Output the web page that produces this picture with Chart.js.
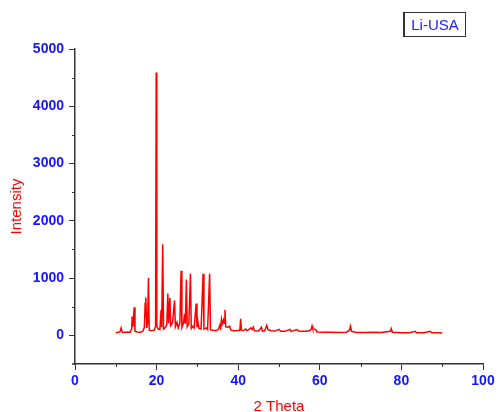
<!DOCTYPE html>
<html lang="en">

<head>
    <meta charset="UTF-8" />
    <title>Li-USA XRD</title>
    <script src="https://cdn.jsdelivr.net/npm/chart.js"></script>
    <style>
        body { margin: 0; background: #fff; }
        .wrap { position: relative; width: 499px; height: 412px; }
        #legenda {
            position: absolute; left: 403px; top: 12px; width: 60px; height: 23px;
            border: 1px solid #333; border-left-width: 2px;
            font: 15px "Liberation Sans", Arial, sans-serif; color: #2222ff;
            text-align: center; line-height: 23px;
        }
    </style>
</head>

<body>
    <div class="wrap">
        <canvas id="grafico" width="499" height="412"></canvas>
        <div id="legenda">Li-USA</div>
    </div>

<script>
    const twoTheta = [10.0, 10.5, 11.0, 11.3, 11.6, 12.2, 12.8, 13.5, 13.9, 14.0, 14.2, 14.5, 14.7, 15.3, 16.0, 16.6, 17.0, 17.2, 17.3, 17.4,
        17.6, 17.8, 18.0, 18.2, 18.8, 19.4, 19.75, 19.9, 20.05, 20.4, 20.8, 21.1, 21.25, 21.5, 21.7, 22.2, 22.5, 22.75, 22.95, 23.25,
        23.45, 23.9, 24.4, 24.6, 25.0, 25.3, 25.7, 26.0, 26.2, 26.6, 26.85, 27.05, 27.3, 27.5, 27.9, 28.3, 28.5, 28.9, 29.2, 29.7,
        29.9, 30.1, 30.4, 30.9, 31.4, 31.6, 32.2, 32.5, 33.0, 33.2, 33.8, 34.6, 35.2, 35.5, 35.7, 35.9, 36.1, 36.4, 36.55, 36.75,
        36.95, 37.4, 37.9, 38.2, 39.0, 39.8, 40.4, 40.6, 40.8, 41.3, 41.8, 42.2, 43.1, 43.4, 43.7, 44.0, 45.0, 45.7, 45.9, 46.5,
        47.0, 47.3, 48.0, 49.0, 50.0, 50.4, 51.5, 52.7, 53.0, 54.4, 54.8, 55.5, 56.5, 57.5, 57.9, 58.1, 58.3, 59.0, 59.3, 61.0,
        63.0, 65.0, 66.5, 67.3, 67.5, 67.8, 69.0, 71.0, 73.0, 75.0, 77.3, 77.5, 77.8, 80.0, 82.0, 83.4, 83.7, 85.5, 87.1, 87.4,
        89.0, 90.0];
    const intensidade = [40, 55, 60, 130, 55, 50, 60, 55, 110, 330, 150, 490, 70, 60, 55, 70, 140, 575, 320, 660,
        130, 220, 1000, 90, 80, 90, 160, 4590, 160, 110, 100, 440, 140, 1590, 110, 140, 190, 730, 210, 650,
        170, 220, 610, 150, 230, 130, 210, 1130, 140, 220, 375, 200, 975, 150, 200, 1075, 120, 160, 130, 555,
        140, 250, 120, 110, 1075, 110, 130, 100, 1075, 100, 90, 80, 110, 180, 130, 280, 200, 270, 210, 445,
        150, 140, 160, 90, 80, 85, 90, 290, 90, 85, 110, 80, 130, 100, 145, 80, 75, 140, 75, 80,
        175, 100, 80, 75, 105, 70, 70, 105, 70, 100, 75, 70, 70, 80, 110, 165, 110, 105, 60, 55,
        55, 50, 55, 90, 160, 70, 50, 50, 55, 50, 70, 120, 55, 45, 45, 70, 45, 45, 70, 45,
        45, 40];
    const xTicks = [0, 20, 40, 60, 80, 100];
    const yTicks = [0, 1000, 2000, 3000, 4000, 5000];
    const xMinor = [10, 30, 50, 70, 90];
    const yMinor = [500, 1500, 2500, 3500, 4500];

    const pontos = twoTheta.map(function (t, i) { return { x: t, y: intensidade[i] }; });

    const azul = '#1414ff';
    const eixo = '#333333';
    const fonteTick = { family: '"Liberation Sans", Arial, sans-serif', size: 14, weight: 'bold' };
    const fonteTitulo = { family: '"Liberation Sans", Arial, sans-serif', size: 15 };

    // ticks menores + prolongamento do eixo x
    const minorTicks = {
        id: 'minorTicks',
        afterDraw(chart) {
            const ctx = chart.ctx;
            const x = chart.scales.x, y = chart.scales.y;
            ctx.save();
            ctx.strokeStyle = eixo;
            ctx.lineWidth = 1;
            yMinor.forEach(function (v) {
                const py = Math.round(y.getPixelForValue(v)) + 0.5;
                ctx.beginPath();
                ctx.moveTo(x.left - 3, py);
                ctx.lineTo(x.left, py);
                ctx.stroke();
            });
            xMinor.forEach(function (v) {
                const px = Math.round(x.getPixelForValue(v)) + 0.5;
                ctx.beginPath();
                ctx.moveTo(px, y.bottom);
                ctx.lineTo(px, y.bottom + 3);
                ctx.stroke();
            });
            ctx.lineWidth = 1.5;
            ctx.beginPath();
            ctx.moveTo(x.left - 3, y.bottom);
            ctx.lineTo(x.left, y.bottom);
            ctx.stroke();
            ctx.restore();
        }
    };

    const config = {
        type: 'line',
        data: {
            datasets: [{
                label: 'Li-USA',
                data: pontos,
                borderColor: '#ff0000',
                borderWidth: 1.5,
                pointRadius: 0,
                tension: 0,
                fill: false
            }]
        },
        options: {
            responsive: false,
            animation: false,
            layout: { padding: { top: 49, right: 16, left: 0, bottom: 0 } },
            plugins: { legend: { display: false }, tooltip: { enabled: false } },
            scales: {
                x: {
                    type: 'linear',
                    min: 0,
                    max: 100,
                    afterBuildTicks: function (s) { s.ticks = xTicks.map(function (v) { return { value: v }; }); },
                    afterFit: function (s) { s.height = 48; },
                    grid: { drawOnChartArea: false, tickLength: 6, tickColor: eixo, tickWidth: 1 },
                    border: { color: eixo, width: 1.5 },
                    ticks: { color: azul, font: fonteTick, padding: 3, maxRotation: 0, callback: function (v) { return String(v); } },
                    title: { display: true, text: '2 Theta', color: '#ff0000', font: fonteTitulo, padding: { top: 0, bottom: -4 } }
                },
                y: {
                    min: -500,
                    max: 5000,
                    afterBuildTicks: function (s) { s.ticks = yTicks.map(function (v) { return { value: v }; }); },
                    afterFit: function (s) { s.width = 75; },
                    grid: { drawOnChartArea: false, tickLength: 6, tickColor: eixo, tickWidth: 1 },
                    border: { color: eixo, width: 1.5 },
                    ticks: { color: azul, font: fonteTick, padding: 5, callback: function (v) { return String(v); } },
                    title: { display: true, text: 'Intensity', color: '#ff0000', font: fonteTitulo, padding: { top: 8, bottom: 0 } }
                }
            }
        },
        plugins: [minorTicks]
    };

    const myChart = new Chart(document.getElementById('grafico'), config);
</script>

</body>

</html>
